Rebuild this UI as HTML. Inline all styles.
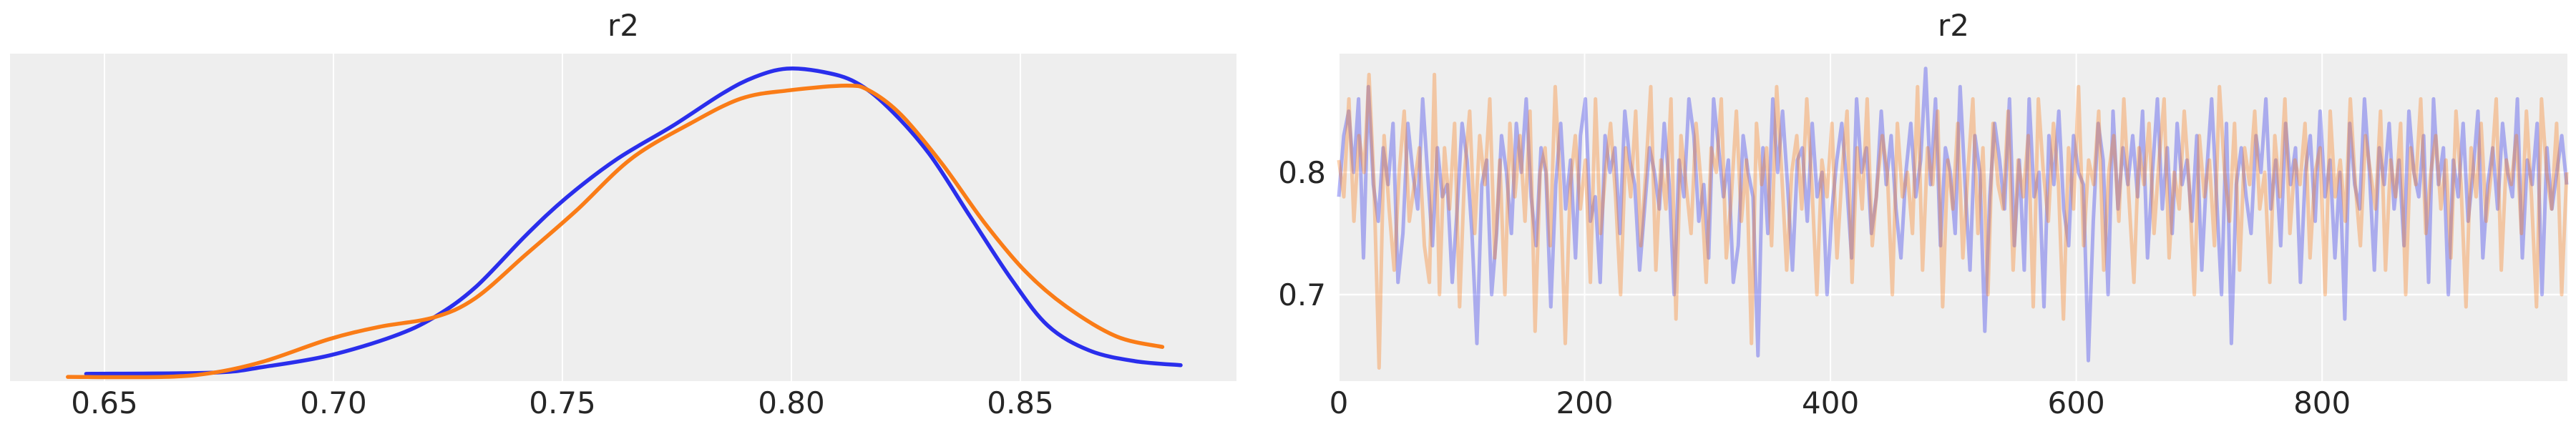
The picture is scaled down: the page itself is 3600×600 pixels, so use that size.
<!DOCTYPE html>
<html><head><meta charset="utf-8"><style>
html,body{margin:0;padding:0;background:#fff;}
svg{display:block;font-family:"DejaVu Sans","Liberation Sans",sans-serif;}
</style></head><body>
<svg id="fig" width="3600" height="600" viewBox="0 0 3600 600">
<rect x="14" y="75" width="1714" height="458" fill="#eeeeee"/>
<rect x="1872" y="75" width="1716" height="458" fill="#eeeeee"/>
<g id="kdeGrid"></g>
<g id="trGrid"></g>
<g id="kdeLines"></g>
<g id="trLines"></g>
<text x="871" y="50" font-size="42" fill="#262626" text-anchor="middle">r2</text>
<text x="2730" y="50" font-size="42" fill="#262626" text-anchor="middle">r2</text>
<g id="kdeTicks"></g>
<g id="trTicks"></g>
</svg>
<script>
const kdeTickLabels = ["0.65","0.70","0.75","0.80","0.85"];
const kdeTickValues = [0.65,0.70,0.75,0.80,0.85];
const blueX = [0.646,0.674,0.685,0.699,0.713,0.722,0.731,0.742,0.751,0.762,0.774,0.785,0.792,0.799,0.807,0.814,0.821,0.830,0.839,0.848,0.856,0.865,0.875,0.885];
const blueD = [0.012,0.016,0.035,0.071,0.133,0.195,0.292,0.46,0.584,0.708,0.814,0.92,0.973,1.0,0.989,0.956,0.876,0.726,0.522,0.319,0.168,0.088,0.053,0.04];
const orangeX = [0.642,0.663,0.674,0.685,0.699,0.710,0.722,0.731,0.742,0.753,0.765,0.778,0.789,0.799,0.812,0.817,0.824,0.833,0.842,0.851,0.860,0.871,0.881];
const orangeD = [0.002,0.002,0.016,0.053,0.124,0.164,0.195,0.257,0.398,0.54,0.708,0.823,0.903,0.929,0.945,0.929,0.85,0.69,0.504,0.345,0.23,0.133,0.099];
const traceXTickLabels = ["0","200","400","600","800"];
const traceXTickValues = [0,200,400,600,800];
const traceYTickLabels = ["0.7","0.8"];
const traceYTickValues = [0.7,0.8];
const nDraws = 1000;
const blueTrace = [0.78,0.83,0.85,0.80,0.86,0.73,0.87,0.79,0.76,0.82,0.79,0.84,0.71,0.75,0.84,0.80,0.77,0.86,0.80,0.74,
0.82,0.78,0.79,0.71,0.77,0.84,0.81,0.75,0.66,0.79,0.81,0.70,0.75,0.83,0.80,0.75,0.84,0.80,0.86,0.78,
0.74,0.82,0.80,0.69,0.79,0.84,0.77,0.81,0.73,0.83,0.86,0.76,0.78,0.71,0.83,0.80,0.82,0.75,0.85,0.81,
0.79,0.72,0.77,0.82,0.80,0.77,0.84,0.79,0.70,0.81,0.78,0.86,0.83,0.76,0.79,0.73,0.86,0.82,0.78,0.81,
0.71,0.74,0.83,0.80,0.78,0.65,0.82,0.75,0.86,0.80,0.85,0.79,0.72,0.81,0.82,0.76,0.84,0.78,0.80,0.70,
0.77,0.81,0.84,0.79,0.73,0.86,0.80,0.82,0.75,0.78,0.85,0.79,0.83,0.77,0.73,0.80,0.84,0.78,0.81,0.885,
0.79,0.86,0.74,0.82,0.80,0.75,0.87,0.79,0.72,0.83,0.80,0.67,0.78,0.84,0.81,0.77,0.86,0.74,0.81,0.72,
0.86,0.78,0.80,0.69,0.83,0.79,0.85,0.77,0.74,0.83,0.80,0.79,0.646,0.76,0.84,0.81,0.70,0.85,0.77,0.82,
0.79,0.83,0.78,0.85,0.73,0.80,0.86,0.77,0.82,0.75,0.84,0.79,0.81,0.76,0.83,0.72,0.80,0.86,0.78,0.70,
0.84,0.66,0.79,0.82,0.78,0.75,0.83,0.80,0.86,0.77,0.81,0.74,0.84,0.79,0.82,0.71,0.80,0.83,0.76,0.85,
0.78,0.81,0.73,0.80,0.68,0.84,0.79,0.77,0.86,0.80,0.72,0.82,0.79,0.84,0.77,0.81,0.74,0.85,0.80,0.78,
0.83,0.71,0.86,0.79,0.82,0.70,0.81,0.78,0.84,0.76,0.80,0.85,0.73,0.79,0.82,0.77,0.84,0.80,0.78,0.86,
0.73,0.81,0.79,0.84,0.70,0.82,0.77,0.80,0.83,0.79];
const orangeTrace = [0.81,0.78,0.86,0.76,0.83,0.80,0.88,0.79,0.64,0.83,0.77,0.72,0.80,0.85,0.76,0.79,0.82,0.74,0.71,0.88,
0.70,0.82,0.77,0.84,0.69,0.80,0.85,0.75,0.83,0.79,0.86,0.73,0.81,0.70,0.84,0.78,0.83,0.76,0.85,0.67,
0.80,0.82,0.74,0.87,0.79,0.66,0.79,0.83,0.77,0.81,0.71,0.86,0.75,0.80,0.84,0.78,0.70,0.82,0.78,0.85,
0.74,0.80,0.87,0.72,0.81,0.77,0.86,0.68,0.83,0.79,0.75,0.84,0.79,0.71,0.82,0.80,0.86,0.73,0.78,0.85,
0.76,0.81,0.66,0.84,0.79,0.82,0.74,0.87,0.80,0.72,0.80,0.83,0.77,0.86,0.79,0.70,0.81,0.78,0.84,0.73,
0.80,0.85,0.71,0.82,0.77,0.86,0.74,0.79,0.83,0.80,0.70,0.84,0.78,0.80,0.75,0.87,0.72,0.82,0.79,0.85,
0.69,0.81,0.77,0.84,0.73,0.80,0.86,0.75,0.82,0.70,0.84,0.79,0.77,0.85,0.72,0.81,0.78,0.83,0.69,0.86,
0.80,0.76,0.84,0.79,0.68,0.82,0.77,0.87,0.74,0.81,0.79,0.85,0.72,0.80,0.83,0.76,0.86,0.78,0.71,0.82,
0.79,0.84,0.75,0.81,0.86,0.73,0.80,0.77,0.85,0.79,0.70,0.83,0.78,0.81,0.74,0.87,0.80,0.76,0.84,0.72,
0.82,0.79,0.85,0.77,0.80,0.71,0.83,0.78,0.86,0.75,0.81,0.79,0.84,0.73,0.80,0.82,0.70,0.85,0.78,0.81,
0.76,0.86,0.79,0.74,0.83,0.80,0.77,0.85,0.72,0.81,0.78,0.84,0.70,0.82,0.79,0.86,0.75,0.80,0.83,0.77,
0.81,0.73,0.85,0.79,0.69,0.82,0.78,0.84,0.76,0.80,0.86,0.72,0.81,0.79,0.83,0.75,0.85,0.78,0.69,0.86,
0.80,0.77,0.84,0.70,0.80];

const NS='http://www.w3.org/2000/svg';
function mk(tag, attrs, parent){const e=document.createElementNS(NS,tag);for(const k in attrs)e.setAttribute(k,attrs[k]);parent.appendChild(e);return e;}
const kx = v => 146 + (v-0.65)*6400;
const ky = d => 528 - d*432;
const tx = i => 1871 + i*(1716/999);
const ty = v => 241 - (v-0.8)*1710;

const kg=document.getElementById('kdeGrid'), tg=document.getElementById('trGrid');
const kt=document.getElementById('kdeTicks'), tt=document.getElementById('trTicks');
kdeTickValues.forEach((v,i)=>{
  const l=mk('line',{x1:kx(v),x2:kx(v),y1:75,y2:533,stroke:'#fff','stroke-width':2},kg);
  
  
  const t=mk('text',{x:kx(v),y:578,'font-size':42,fill:'#262626','text-anchor':'middle'},kt);
  t.textContent=kdeTickLabels[i];
  
  
});
traceXTickValues.forEach((v,i)=>{
  const l=mk('line',{x1:tx(v),x2:tx(v),y1:75,y2:533,stroke:'#fff','stroke-width':2},tg);
  
  
  const t=mk('text',{x:tx(v),y:578,'font-size':42,fill:'#262626','text-anchor':'middle'},tt);
  t.textContent=traceXTickLabels[i];
  
  
});
traceYTickValues.forEach((v,i)=>{
  const l=mk('line',{x1:1872,x2:3588,y1:ty(v),y2:ty(v),stroke:'#fff','stroke-width':2.5},tg);
  
  
  const t=mk('text',{x:1853,y:ty(v)+15,'font-size':42,fill:'#262626','text-anchor':'end'},tt);
  t.textContent=traceYTickLabels[i];
  
  
});
function smoothPath(xs,ys){
  const p=xs.map((x,i)=>[x,ys[i]]);
  let d='M'+p[0][0]+','+p[0][1];
  for(let i=0;i<p.length-1;i++){
    const p0=p[i-1]||p[i],p1=p[i],p2=p[i+1],p3=p[i+2]||p2;
    const c1=[p1[0]+(p2[0]-p0[0])/6,p1[1]+(p2[1]-p0[1])/6];
    const c2=[p2[0]-(p3[0]-p1[0])/6,p2[1]-(p3[1]-p1[1])/6];
    d+=' C'+c1.join(',')+' '+c2.join(',')+' '+p2.join(',');
  }
  return d;
}
const kl=document.getElementById('kdeLines');
const bk=mk('path',{d:smoothPath(blueX.map(kx),blueD.map(ky)),fill:'none',stroke:'#2a2eec','stroke-width':5.5,'stroke-linecap':'round'},kl);


const ok=mk('path',{d:smoothPath(orangeX.map(kx),orangeD.map(ky)),fill:'none',stroke:'#fa7c17','stroke-width':5.5,'stroke-linecap':'round'},kl);


const tl=document.getElementById('trLines');
function tracePath(arr){
  const step=(nDraws-1)/(arr.length-1);
  return arr.map((v,i)=>(i?'L':'M')+tx(i*step).toFixed(1)+','+ty(v).toFixed(1)).join(' ');
}
const bt=mk('path',{d:tracePath(blueTrace),fill:'none',stroke:'#2a2eec','stroke-opacity':0.35,'stroke-width':5,'stroke-linejoin':'round'},tl);


const ot=mk('path',{d:tracePath(orangeTrace),fill:'none',stroke:'#fa7c17','stroke-opacity':0.35,'stroke-width':5,'stroke-linejoin':'round'},tl);


</script>
</body></html>
